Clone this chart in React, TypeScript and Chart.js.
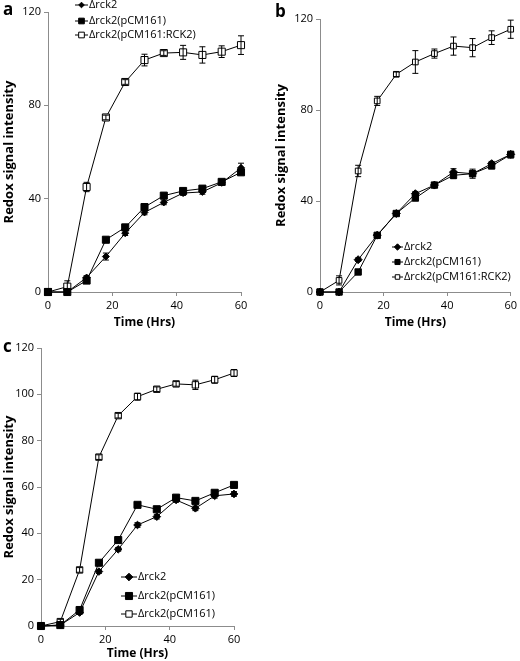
import React, { useEffect, useRef } from 'react';
import { Chart, registerables } from 'chart.js';
Chart.register(...registerables);

// ---------- data ----------
const timeHrs = [0, 6, 12, 18, 24, 30, 36, 42, 48, 54, 60];

const aRck2 = [0, 0, 6.2, 15.2, 25.2, 34.1, 38.4, 42.4, 42.9, 46.8, 53.2];
const aRck2Err = [0, 0, 0.8, 1.5, 1, 1, 1, 1, 1, 1, 2];
const aPCM161 = [0, 0, 4.9, 22.4, 27.7, 36.4, 41.3, 43.3, 44.3, 47.2, 51.3];
const aPCM161Err = [0, 0, 0.8, 1, 1, 1, 1, 1, 1, 1, 1];
const aRCK2 = [0, 2.3, 45, 74.8, 90, 99.4, 102.4, 102.7, 101.6, 103, 105.8];
const aRCK2Err = [0, 2.5, 2, 1, 1, 2.5, 1, 3, 3.5, 2.5, 4];

const bRck2 = [0, 0, 14.2, 25, 34.5, 43.2, 47, 52.7, 52, 56.4, 60.5];
const bRck2Err = [0, 0, 0.8, 0.8, 0.8, 1, 1, 1.5, 1, 1, 1];
const bPCM161 = [0, 0, 8.8, 24.9, 34.5, 41.3, 47, 51.3, 52, 55.4, 60.4];
const bPCM161Err = [0, 0, 0.8, 0.8, 0.8, 1, 1, 1.5, 2, 1, 1.5];
const bRCK2 = [0, 5.1, 53.2, 84, 95.7, 101.1, 104.8, 108.1, 107.4, 111.8, 115.5];
const bRCK2Err = [0, 2, 2.5, 2, 1, 5, 2, 4, 4, 3, 4];

const cRck2 = [0, 0.4, 5.8, 23.5, 33.1, 43.6, 47.2, 54.4, 50.8, 56.2, 57];
const cRck2Err = [0, 0, 0.8, 0.8, 0.8, 1, 1, 1, 1, 1, 1];
const cPCM161 = [0, 0.4, 6.9, 27.3, 37.1, 52.3, 50.4, 55.4, 54, 57.5, 60.9];
const cPCM161Err = [0, 0, 0.8, 0.8, 0.8, 1, 1, 1, 1, 1, 1];
const cOpen = [0, 1.9, 24.2, 72.9, 90.8, 99, 102.2, 104.5, 104.1, 106.3, 109.2];
const cOpenErr = [0, 1, 1, 1, 1, 1.5, 1, 1, 2, 1.5, 1.5];

const yTicksAB = [0, 40, 80, 120];
const yTicksC = [0, 20, 40, 60, 80, 100, 120];
const xTicks = [0, 20, 40, 60];

const legendA = ['Δrck2', 'Δrck2(pCM161)', 'Δrck2(pCM161:RCK2)'];
const legendB = ['Δrck2', 'Δrck2(pCM161)', 'Δrck2(pCM161:RCK2)'];
const legendC = ['Δrck2', 'Δrck2(pCM161)', 'Δrck2(pCM161)'];

// ---------- styling ----------
const FONT = "'Open Sans', sans-serif";
const AXIS_GRAY = '#8c8c8c';

type Series = {
  label: string;
  values: number[];
  errors: number[];
  style: 'rect' | 'rectRot';
  fill: string;
  radius: number;
};

type PanelDef = {
  letter: string;
  letterX: number;
  letterY: number;
  left: number;
  top: number;
  width: number;
  height: number;
  pad: { left: number; top: number; right: number; bottom: number };
  yWidth: number;
  xHeight: number;
  yTicks: number[];
  yTitleOffset: number;
  xTitleBottom: number;
  series: Series[];
  legend: { x: number; rows: number[]; lineLen: number; scale: number };
};

function drawMarker(ctx: CanvasRenderingContext2D, style: string, x: number, y: number, r: number, fill: string) {
  ctx.save();
  ctx.beginPath();
  if (style === 'rect') {
    const s = r * Math.SQRT1_2;
    ctx.rect(x - s, y - s, 2 * s, 2 * s);
  } else {
    ctx.moveTo(x, y - r);
    ctx.lineTo(x + r, y);
    ctx.lineTo(x, y + r);
    ctx.lineTo(x - r, y);
    ctx.closePath();
  }
  ctx.fillStyle = fill;
  ctx.fill();
  ctx.lineWidth = 1;
  ctx.strokeStyle = '#000';
  ctx.stroke();
  ctx.restore();
}

const panels: PanelDef[] = [
  {
    letter: 'a', letterX: 3, letterY: 15,
    left: 0, top: 0, width: 260, height: 330,
    pad: { left: 0, top: 12, right: 19, bottom: 0 },
    yWidth: 48, xHeight: 38, yTicks: yTicksAB, yTitleOffset: 1.5, xTitleBottom: 0,
    series: [
      { label: legendA[0], values: aRck2, errors: aRck2Err, style: 'rectRot', fill: '#000', radius: 3.5 },
      { label: legendA[1], values: aPCM161, errors: aPCM161Err, style: 'rect', fill: '#000', radius: 5 },
      { label: legendA[2], values: aRCK2, errors: aRCK2Err, style: 'rect', fill: '#fff', radius: 5 },
    ],
    legend: { x: 75, rows: [5, 21, 35], lineLen: 13, scale: 0.8 },
  },
  {
    letter: 'b', letterX: 275, letterY: 17,
    left: 260, top: 0, width: 260, height: 330,
    pad: { left: 0, top: 19, right: 8, bottom: 0 },
    yWidth: 60, xHeight: 38, yTicks: yTicksAB, yTitleOffset: 13.5, xTitleBottom: 0,
    series: [
      { label: legendB[0], values: bRck2, errors: bRck2Err, style: 'rectRot', fill: '#000', radius: 4 },
      { label: legendB[1], values: bPCM161, errors: bPCM161Err, style: 'rect', fill: '#000', radius: 4.5 },
      { label: legendB[2], values: bRCK2, errors: bRCK2Err, style: 'rect', fill: '#fff', radius: 4 },
    ],
    legend: { x: 132, rows: [247, 262, 277], lineLen: 11, scale: 0.8 },
  },
  {
    letter: 'c', letterX: 3, letterY: 22,
    left: 0, top: 330, width: 260, height: 331,
    pad: { left: 0, top: 18, right: 26, bottom: 0 },
    yWidth: 41, xHeight: 35, yTicks: yTicksC, yTitleOffset: 1.5, xTitleBottom: 0.5,
    series: [
      { label: legendC[0], values: cRck2, errors: cRck2Err, style: 'rectRot', fill: '#000', radius: 3.8 },
      { label: legendC[1], values: cPCM161, errors: cPCM161Err, style: 'rect', fill: '#000', radius: 5 },
      { label: legendC[2], values: cOpen, errors: cOpenErr, style: 'rect', fill: '#fff', radius: 4.5 },
    ],
    legend: { x: 121, rows: [247, 266, 284], lineLen: 16, scale: 1 },
  },
];

function Panel({ def }: { def: PanelDef }) {
  const ref = useRef<HTMLCanvasElement>(null);
  useEffect(() => {
    const canvas = ref.current;
    if (!canvas) return;
    const series = def.series;

    const errorBarPlugin = {
      id: 'errorBars',
      afterDatasetsDraw(chart: any) {
        const ctx = chart.ctx as CanvasRenderingContext2D;
        const yScale = chart.scales.y;
        ctx.save();
        ctx.strokeStyle = '#000';
        ctx.lineWidth = 1;
        series.forEach((s, i) => {
          const meta = chart.getDatasetMeta(i);
          s.errors.forEach((e, j) => {
            if (!e) return;
            const pt = meta.data[j];
            const x = pt.x;
            const yTop = yScale.getPixelForValue(s.values[j] + e);
            const yBot = yScale.getPixelForValue(s.values[j] - e);
            ctx.beginPath();
            ctx.moveTo(x, yTop);
            ctx.lineTo(x, yBot);
            ctx.moveTo(x - 3, yTop);
            ctx.lineTo(x + 3, yTop);
            ctx.moveTo(x - 3, yBot);
            ctx.lineTo(x + 3, yBot);
            ctx.stroke();
          });
        });
        ctx.restore();
      },
    };

    const legendPlugin = {
      id: 'customLegend',
      afterDraw(chart: any) {
        const ctx = chart.ctx as CanvasRenderingContext2D;
        const lg = def.legend;
        ctx.save();
        series.forEach((s, i) => {
          const y = lg.rows[i];
          ctx.strokeStyle = '#000';
          ctx.lineWidth = 1;
          ctx.beginPath();
          ctx.moveTo(lg.x, y);
          ctx.lineTo(lg.x + lg.lineLen, y);
          ctx.stroke();
          drawMarker(ctx, s.style, lg.x + lg.lineLen / 2, y, s.radius * lg.scale, s.fill);
          ctx.fillStyle = '#000';
          ctx.font = `11px ${FONT}`;
          ctx.textBaseline = 'middle';
          ctx.textAlign = 'left';
          ctx.fillText(s.label, lg.x + lg.lineLen + 1, y);
        });
        ctx.font = `bold 17px ${FONT}`;
        ctx.textBaseline = 'alphabetic';
        ctx.fillText(def.letter, def.letterX - def.left, def.letterY);
        ctx.restore();
      },
    };

    const chart = new Chart(canvas, {
      type: 'line',
      data: {
        datasets: series.map((s) => ({
          label: s.label,
          data: timeHrs.map((t, j) => ({ x: t, y: s.values[j] })),
          borderColor: '#000',
          borderWidth: 1,
          tension: 0,
          fill: false,
          pointStyle: s.style,
          pointRadius: s.radius,
          pointBackgroundColor: s.fill,
          pointBorderColor: '#000',
          pointBorderWidth: 1,
          clip: false as any,
        })),
      },
      options: {
        responsive: false,
        animation: false,
        events: [],
        layout: { padding: def.pad },
        plugins: { legend: { display: false }, tooltip: { enabled: false } },
        scales: {
          x: {
            type: 'linear',
            min: 0,
            max: 60,
            afterBuildTicks: (scale: any) => {
              scale.ticks = xTicks.map((v) => ({ value: v }));
            },
            ticks: { font: { family: FONT, size: 11 }, color: '#000', padding: 3, maxRotation: 0 },
            grid: { drawOnChartArea: false, drawTicks: true, tickLength: 4, color: AXIS_GRAY },
            border: { display: true, color: AXIS_GRAY, width: 1 },
            title: {
              display: true,
              text: 'Time (Hrs)',
              color: '#000',
              font: { family: FONT, size: 12, weight: 'bold' },
              padding: { top: 0, bottom: def.xTitleBottom },
            },
            afterFit: (scale: any) => {
              scale.height = def.xHeight;
            },
          },
          y: {
            type: 'linear',
            min: 0,
            max: 120,
            afterBuildTicks: (scale: any) => {
              scale.ticks = def.yTicks.map((v) => ({ value: v }));
            },
            ticks: { font: { family: FONT, size: 11 }, color: '#000', padding: 3 },
            grid: { drawOnChartArea: false, drawTicks: true, tickLength: 4, color: AXIS_GRAY },
            border: { display: true, color: AXIS_GRAY, width: 1 },
            title: {
              display: true,
              text: 'Redox signal intensity',
              color: '#000',
              font: { family: FONT, size: 13, weight: 'bold' },
              padding: { top: def.yTitleOffset, bottom: 0 },
            },
            afterFit: (scale: any) => {
              scale.width = def.yWidth;
            },
          },
        },
      },
      plugins: [errorBarPlugin, legendPlugin],
    });
    return () => chart.destroy();
  }, [def]);

  return (
    <canvas
      ref={ref}
      width={def.width}
      height={def.height}
      style={{ position: 'absolute', left: def.left, top: def.top, width: def.width, height: def.height }}
    />
  );
}

export default function App() {
  return (
    <div style={{ position: 'absolute', left: 0, top: 0, width: 520, height: 661, background: '#fff', overflow: 'hidden' }}>
      {panels.map((p) => (
        <Panel key={p.letter} def={p} />
      ))}
    </div>
  );
}
